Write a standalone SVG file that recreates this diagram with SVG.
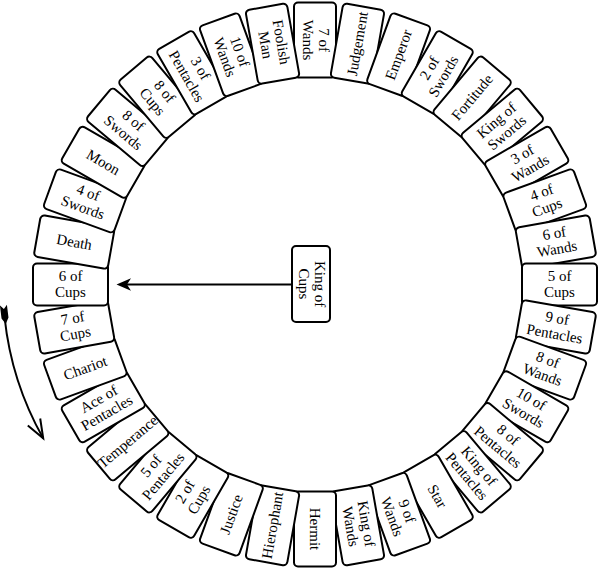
<svg xmlns="http://www.w3.org/2000/svg" xmlns:xlink="http://www.w3.org/1999/xlink" width="600" height="572" viewBox="0 0 600 572">
<style>
.card{fill:#fff;stroke:#000;stroke-width:2}
.lbl{font-family:"Liberation Serif",serif;font-size:15px;text-anchor:middle;fill:#000}
.conn{fill:none;stroke:#000;stroke-width:2}
</style>
<defs>
<rect id="cardShape" class="card" x="294" y="2.5" width="42" height="75" rx="4"/>
</defs>
<rect width="600" height="572" fill="#fff"/>
<g id="cards">
<g id="c00" transform="rotate(0 315 284.5)"><use xlink:href="#cardShape"/><text class="lbl" transform="translate(315 40) rotate(90)"><tspan x="0" y="-4">7 of</tspan><tspan x="0" y="12">Wands</tspan></text></g>
<g id="c01" transform="rotate(10 315 284.5)"><use xlink:href="#cardShape"/><text class="lbl" transform="translate(315 40) rotate(-90)"><tspan x="0" y="5">Judgement</tspan></text></g>
<g id="c02" transform="rotate(20 315 284.5)"><use xlink:href="#cardShape"/><text class="lbl" transform="translate(315 40) rotate(-90)"><tspan x="0" y="5">Emperor</tspan></text></g>
<g id="c03" transform="rotate(30 315 284.5)"><use xlink:href="#cardShape"/><text class="lbl" transform="translate(315 40) rotate(-90)"><tspan x="0" y="-4">2 of</tspan><tspan x="0" y="12">Swords</tspan></text></g>
<g id="c04" transform="rotate(40 315 284.5)"><use xlink:href="#cardShape"/><text class="lbl" transform="translate(315 40) rotate(-90)"><tspan x="0" y="5">Fortitude</tspan></text></g>
<g id="c05" transform="rotate(50 315 284.5)"><use xlink:href="#cardShape"/><text class="lbl" transform="translate(315 40) rotate(-90)"><tspan x="0" y="-4">King of</tspan><tspan x="0" y="12">Swords</tspan></text></g>
<g id="c06" transform="rotate(60 315 284.5)"><use xlink:href="#cardShape"/><text class="lbl" transform="translate(315 40) rotate(-90)"><tspan x="0" y="-4">3 of</tspan><tspan x="0" y="12">Wands</tspan></text></g>
<g id="c07" transform="rotate(70 315 284.5)"><use xlink:href="#cardShape"/><text class="lbl" transform="translate(315 40) rotate(-90)"><tspan x="0" y="-4">4 of</tspan><tspan x="0" y="12">Cups</tspan></text></g>
<g id="c08" transform="rotate(80 315 284.5)"><use xlink:href="#cardShape"/><text class="lbl" transform="translate(315 40) rotate(-90)"><tspan x="0" y="-4">6 of</tspan><tspan x="0" y="12">Wands</tspan></text></g>
<g id="c09" transform="rotate(90 315 284.5)"><use xlink:href="#cardShape"/><text class="lbl" transform="translate(315 40) rotate(-90)"><tspan x="0" y="-4">5 of</tspan><tspan x="0" y="12">Cups</tspan></text></g>
<g id="c10" transform="rotate(100 315 284.5)"><use xlink:href="#cardShape"/><text class="lbl" transform="translate(315 40) rotate(-90)"><tspan x="0" y="-4">9 of</tspan><tspan x="0" y="12">Pentacles</tspan></text></g>
<g id="c11" transform="rotate(110 315 284.5)"><use xlink:href="#cardShape"/><text class="lbl" transform="translate(315 40) rotate(-90)"><tspan x="0" y="-4">8 of</tspan><tspan x="0" y="12">Wands</tspan></text></g>
<g id="c12" transform="rotate(120 315 284.5)"><use xlink:href="#cardShape"/><text class="lbl" transform="translate(315 40) rotate(-90)"><tspan x="0" y="-4">10 of</tspan><tspan x="0" y="12">Swords</tspan></text></g>
<g id="c13" transform="rotate(130 315 284.5)"><use xlink:href="#cardShape"/><text class="lbl" transform="translate(315 40) rotate(-90)"><tspan x="0" y="-4">8 of</tspan><tspan x="0" y="12">Pentacles</tspan></text></g>
<g id="c14" transform="rotate(140 315 284.5)"><use xlink:href="#cardShape"/><text class="lbl" transform="translate(315 40) rotate(-90)"><tspan x="0" y="-4">King of</tspan><tspan x="0" y="12">Pentacles</tspan></text></g>
<g id="c15" transform="rotate(150 315 284.5)"><use xlink:href="#cardShape"/><text class="lbl" transform="translate(315 40) rotate(-90)"><tspan x="0" y="5">Star</tspan></text></g>
<g id="c16" transform="rotate(160 315 284.5)"><use xlink:href="#cardShape"/><text class="lbl" transform="translate(315 40) rotate(-90)"><tspan x="0" y="-4">9 of</tspan><tspan x="0" y="12">Wands</tspan></text></g>
<g id="c17" transform="rotate(170 315 284.5)"><use xlink:href="#cardShape"/><text class="lbl" transform="translate(315 40) rotate(-90)"><tspan x="0" y="-4">King of</tspan><tspan x="0" y="12">Wands</tspan></text></g>
<g id="c18" transform="rotate(180 315 284.5)"><use xlink:href="#cardShape"/><text class="lbl" transform="translate(315 40) rotate(-90)"><tspan x="0" y="5">Hermit</tspan></text></g>
<g id="c19" transform="rotate(190 315 284.5)"><use xlink:href="#cardShape"/><text class="lbl" transform="translate(315 40) rotate(90)"><tspan x="0" y="5">Hierophant</tspan></text></g>
<g id="c20" transform="rotate(200 315 284.5)"><use xlink:href="#cardShape"/><text class="lbl" transform="translate(315 40) rotate(90)"><tspan x="0" y="5">Justice</tspan></text></g>
<g id="c21" transform="rotate(210 315 284.5)"><use xlink:href="#cardShape"/><text class="lbl" transform="translate(315 40) rotate(90)"><tspan x="0" y="-4">2 of</tspan><tspan x="0" y="12">Cups</tspan></text></g>
<g id="c22" transform="rotate(220 315 284.5)"><use xlink:href="#cardShape"/><text class="lbl" transform="translate(315 40) rotate(90)"><tspan x="0" y="-4">5 of</tspan><tspan x="0" y="12">Pentacles</tspan></text></g>
<g id="c23" transform="rotate(230 315 284.5)"><use xlink:href="#cardShape"/><text class="lbl" transform="translate(315 40) rotate(90)"><tspan x="0" y="5">Temperance</tspan></text></g>
<g id="c24" transform="rotate(240 315 284.5)"><use xlink:href="#cardShape"/><text class="lbl" transform="translate(315 40) rotate(90)"><tspan x="0" y="-4">Ace of</tspan><tspan x="0" y="12">Pentacles</tspan></text></g>
<g id="c25" transform="rotate(250 315 284.5)"><use xlink:href="#cardShape"/><text class="lbl" transform="translate(315 40) rotate(90)"><tspan x="0" y="5">Chariot</tspan></text></g>
<g id="c26" transform="rotate(260 315 284.5)"><use xlink:href="#cardShape"/><text class="lbl" transform="translate(315 40) rotate(90)"><tspan x="0" y="-4">7 of</tspan><tspan x="0" y="12">Cups</tspan></text></g>
<g id="c27" transform="rotate(270 315 284.5)"><use xlink:href="#cardShape"/><text class="lbl" transform="translate(315 40) rotate(90)"><tspan x="0" y="-4">6 of</tspan><tspan x="0" y="12">Cups</tspan></text></g>
<g id="c28" transform="rotate(280 315 284.5)"><use xlink:href="#cardShape"/><text class="lbl" transform="translate(315 40) rotate(90)"><tspan x="0" y="5">Death</tspan></text></g>
<g id="c29" transform="rotate(290 315 284.5)"><use xlink:href="#cardShape"/><text class="lbl" transform="translate(315 40) rotate(90)"><tspan x="0" y="-4">4 of</tspan><tspan x="0" y="12">Swords</tspan></text></g>
<g id="c30" transform="rotate(300 315 284.5)"><use xlink:href="#cardShape"/><text class="lbl" transform="translate(315 40) rotate(90)"><tspan x="0" y="5">Moon</tspan></text></g>
<g id="c31" transform="rotate(310 315 284.5)"><use xlink:href="#cardShape"/><text class="lbl" transform="translate(315 40) rotate(90)"><tspan x="0" y="-4">8 of</tspan><tspan x="0" y="12">Swords</tspan></text></g>
<g id="c32" transform="rotate(320 315 284.5)"><use xlink:href="#cardShape"/><text class="lbl" transform="translate(315 40) rotate(90)"><tspan x="0" y="-4">8 of</tspan><tspan x="0" y="12">Cups</tspan></text></g>
<g id="c33" transform="rotate(330 315 284.5)"><use xlink:href="#cardShape"/><text class="lbl" transform="translate(315 40) rotate(90)"><tspan x="0" y="-4">3 of</tspan><tspan x="0" y="12">Pentacles</tspan></text></g>
<g id="c34" transform="rotate(340 315 284.5)"><use xlink:href="#cardShape"/><text class="lbl" transform="translate(315 40) rotate(90)"><tspan x="0" y="-4">10 of</tspan><tspan x="0" y="12">Wands</tspan></text></g>
<g id="c35" transform="rotate(350 315 284.5)"><use xlink:href="#cardShape"/><text class="lbl" transform="translate(315 40) rotate(90)"><tspan x="0" y="-4">Foolish</tspan><tspan x="0" y="12">Man</tspan></text></g>
</g>
<g id="center-card">
<rect class="card" x="292" y="246" width="38" height="76" rx="4"/>
<text class="lbl" transform="translate(311 284) rotate(90)"><tspan x="0" y="-4">King of</tspan><tspan x="0" y="12">Cups</tspan></text>
</g>
<g id="connectors">
<line class="conn" x1="291" y1="284.5" x2="126" y2="284.5"/>
<path d="M116.5,284.5 L131,278.3 L127,284.5 L131,290.7 Z" fill="#000"/>
<path class="conn" d="M4.6,317.5 A312.3,312.3 0 0 0 43.2,438.3"/>
<path class="conn" d="M27.8,425.6 L43.2,438.3 L40.2,418.5"/>
<path d="M5.5,324 L9,318 L9,305 L5.5,309 L2,305 L2,318 Z" fill="#000" transform="rotate(-7 5.5 322)"/>
</g>
</svg>
